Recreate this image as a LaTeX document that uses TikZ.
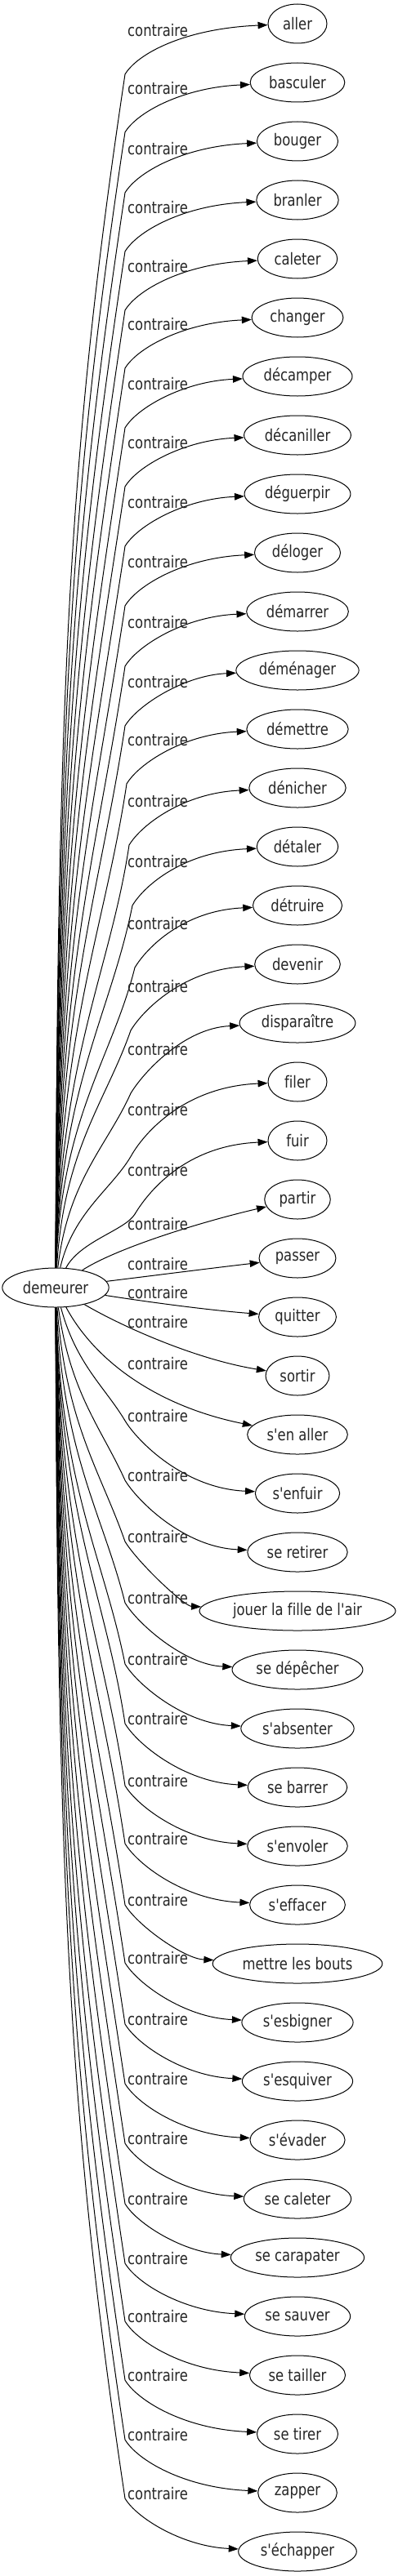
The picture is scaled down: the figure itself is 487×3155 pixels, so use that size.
\documentclass[tikz,border=0pt]{standalone}
\usepackage{fontspec}
\setmainfont{DejaVu Sans}[FakeStretch=0.82,Ligatures={TeXOff,NoCommon}]
\usetikzlibrary{arrows.meta,shapes.geometric}
\begin{document}
\begin{tikzpicture}[x=1pt,y=-1pt,
  every node/.style={font=\fontsize{20}{24}\selectfont, text=black!85},
  word/.style={draw=black, line width=1pt, ellipse, minimum width=72pt, minimum height=48pt, inner xsep=6pt, inner ysep=2pt},
  lab/.style={anchor=west, inner sep=0pt},
  conn/.style={draw=black, line width=1pt, -{Triangle[length=12pt,width=8.5pt]}}]
\useasboundingbox (0,0) rectangle (487,3155);
\node[word] (root) at (68,1577) {demeurer};
\foreach \w [count=\i from 0] in {aller,basculer,bouger,branler,caleter,changer,décamper,décaniller,déguerpir,déloger,démarrer,déménager,démettre,dénicher,détaler,détruire,devenir,disparaître,filer,fuir,partir,passer,quitter,sortir,s'en aller,s'enfuir,se retirer,jouer la fille de l'air,se dépêcher,s'absenter,se barrer,s'envoler,s'effacer,mettre les bouts,s'esbigner,s'esquiver,s'évader,se caleter,se carapater,se sauver,se tailler,se tirer,zapper,s'échapper}
  {\node[word] (n\i) at (364,{29+72*\i}) {\w};}
% upper edges
\foreach \i/\yl/\kx/\xs/\s in {0/37/153/70/0.15,1/108/153/70.3/0.15,2/182/153/70.6/0.15,3/254/153/70.9/0.15,4/326/153/71.2/0.15,5/397/153/71.5/0.15,6/470/153/71.8/0.15,7/542/153/72.1/0.15,8/615/153/72.4/0.15,9/688/153/72.7/0.15,10/762/153/73/0.15,11/835/153/73.3/0.15,12/906/155/73.6/0.15,13/981/158/73.9/0.15,14/1055/162/74.2/0.2,15/1131/165/74.5/0.25,16/1208/160/78/0.35,17/1285/160/83/0.45,18/1359/162/90/0.55,19/1433/165/98/0.6}
{
  \pgfmathsetmacro\yK{\yl+54}
  \pgfmathsetmacro\D{1553-\yK}
  \pgfmathsetmacro\ca{1553-0.5*\D}
  \pgfmathsetmacro\cbx{\kx-\s*0.3*\D}
  \pgfmathsetmacro\cby{\yK+0.3*\D}
  \pgfmathsetmacro\ccx{\kx+15}
  \pgfmathsetmacro\ccy{\yK-25}
  \pgfmathsetmacro\cdy{29+72*\i+6}
  \draw[conn] (root) .. controls (\xs,\ca) and (\cbx,\cby) .. (\kx,\yK) .. controls (\ccx,\ccy) and (225,\cdy) .. (n\i);
  \node[lab] (l\i) at (156,\yl) {contraire};
}
% middle edges
\draw[conn] (root) .. controls (140,1530) and (240,1498) .. (n20);
\node[lab] (l20) at (156,1499) {contraire};
\draw[conn] (root) .. controls (190,1562) and (260,1553) .. (n21);
\node[lab] (l21) at (156,1548) {contraire};
\draw[conn] (root) .. controls (190,1596) and (260,1605) .. (n22);
\node[lab] (l22) at (156,1583) {contraire};
\draw[conn] (root) .. controls (150,1625) and (240,1665) .. (n23);
\node[lab] (l23) at (156,1619) {contraire};
\draw[conn] (root) .. controls (115,1665) and (190,1722) .. (n24);
\node[lab] (l24) at (156,1670) {contraire};
% lower edges
\foreach \i/\yl/\xs/\s in {25/1734/93/0.6,26/1807/86/0.45,27/1882/81/0.35,28/1957/77/0.25,29/2032/74.2/0.2,30/2105/73.9/0.15,31/2181/73.6/0.15,32/2252/73.3/0.15,33/2327/73/0.15,34/2398/72.7/0.15,35/2473/72.4/0.15,36/2546/72.1/0.15,37/2619/71.8/0.15,38/2693/71.5/0.15,39/2766/71.2/0.15,40/2837/70.9/0.15,41/2909/70.6/0.15,42/2982/70.3/0.15,43/3054/70/0.15}
{
  \pgfmathsetmacro\yK{\yl+6}
  \pgfmathsetmacro\D{\yK-1601}
  \pgfmathsetmacro\ca{1601+0.5*\D}
  \pgfmathsetmacro\cbx{153-\s*0.3*\D}
  \pgfmathsetmacro\cby{\yK-0.3*\D}
  \pgfmathsetmacro\ccy{\yK+25}
  \pgfmathsetmacro\cdy{29+72*\i-6}
  \draw[conn] (root) .. controls (\xs,\ca) and (\cbx,\cby) .. (153,\yK) .. controls (168,\ccy) and (225,\cdy) .. (n\i);
  \node[lab] (l\i) at (156,\yl) {contraire};
}
\end{tikzpicture}
\end{document}
